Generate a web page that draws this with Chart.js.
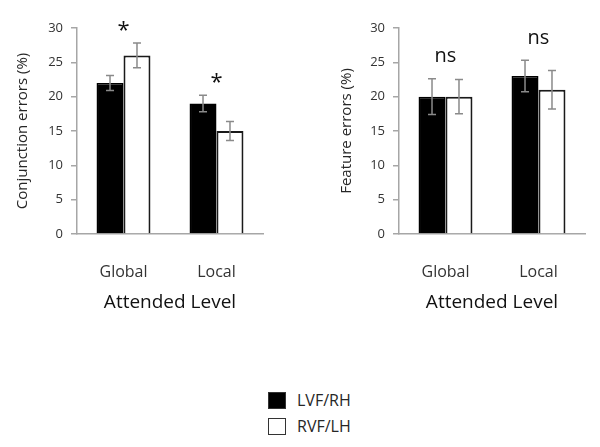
<!DOCTYPE html>
<html><head><meta charset="utf-8">
<script src="https://cdn.jsdelivr.net/npm/chart.js@4.4.1/dist/chart.umd.min.js"></script>
<style>
html,body{margin:0;padding:0;background:#fff;width:600px;height:447px;overflow:hidden;font-family:"Open Sans",sans-serif}
.c{position:absolute;top:0;height:320px;width:300px}
#legend{position:absolute;left:268px;top:392px;font-family:"Open Sans",sans-serif;font-size:16px;color:#262626}
.item{position:relative;height:26px}
.box{position:absolute;left:0;top:0;width:18px;height:17px;box-sizing:border-box}
.lab{position:absolute;left:29px;top:-3px;line-height:22px;white-space:nowrap}
</style></head><body>
<div class="c" style="left:0"><canvas id="c1"></canvas></div>
<div class="c" style="left:300px"><canvas id="c2"></canvas></div>
<div id="legend"></div>
<script>
// ---- data ----
const categories = ['Global', 'Local'];
const seriesNames = ['LVF/RH', 'RVF/LH'];
const conjLVF = [22, 19];
const conjRVF = [26, 15];
const conjLVFErr = [1.1, 1.2];
const conjRVFErr = [1.8, 1.4];
const featLVF = [20, 23];
const featRVF = [20, 21];
const featLVFErr = [2.6, 2.3];
const featRVFErr = [2.5, 2.8];
const conjSig = ['*', '*'];
const featSig = ['ns', 'ns'];
const yMin = 0, yMax = 30, yStep = 5;
const xTitle = 'Attended Level';
const conjTitle = 'Conjunction errors (%)';
const featTitle = 'Feature errors (%)';

const FONT = '"Open Sans", sans-serif';

const errorBarPlugin = {
  id: 'errorBars',
  afterDatasetsDraw(chart) {
    const ctx = chart.ctx, y = chart.scales.y;
    ctx.save();
    ctx.strokeStyle = '#8a8a8a';
    ctx.lineWidth = 1.5;
    chart.data.datasets.forEach((ds, di) => {
      const meta = chart.getDatasetMeta(di);
      meta.data.forEach((bar, i) => {
        const v = ds.data[i], e = ds.errors[i];
        const yt = y.getPixelForValue(v + e), yb = y.getPixelForValue(v - e);
        const x = bar.x;
        ctx.beginPath();
        ctx.moveTo(x, yt); ctx.lineTo(x, yb);
        ctx.moveTo(x - 4, yt); ctx.lineTo(x + 4, yt);
        ctx.moveTo(x - 4, yb); ctx.lineTo(x + 4, yb);
        ctx.stroke();
      });
    });
    ctx.restore();
  }
};

const sigPlugin = {
  id: 'sigLabels',
  afterDatasetsDraw(chart, args, opts) {
    const ctx = chart.ctx, y = chart.scales.y, x = chart.scales.x;
    ctx.save();
    ctx.fillStyle = '#111';
    ctx.textAlign = 'center';
    ctx.textBaseline = 'alphabetic';
    opts.labels.forEach((lab, i) => {
      let top = Infinity;
      chart.data.datasets.forEach(ds => {
        top = Math.min(top, y.getPixelForValue(ds.data[i] + ds.errors[i]));
      });
      const isStar = lab === '*';
      ctx.font = (isStar ? '22px ' : '20px ') + FONT;
      const m = ctx.measureText(lab);
      const center = top - (isStar ? 17 : 22);
      const base = center + (m.actualBoundingBoxAscent - m.actualBoundingBoxDescent) / 2;
      ctx.fillText(lab, x.getPixelForValue(i), base);
    });
    ctx.restore();
  }
};

function makeChart(id, lvf, lvfErr, rvf, rvfErr, sig, yTitle, yWidth, yTitlePad, padRight) {
  return new Chart(document.getElementById(id), {
    type: 'bar',
    data: {
      labels: categories,
      datasets: [
        {label: seriesNames[0], data: lvf, errors: lvfErr, backgroundColor: '#000', borderColor: '#000', borderWidth: 1.5},
        {label: seriesNames[1], data: rvf, errors: rvfErr, backgroundColor: '#fff', borderColor: '#1a1a1a', borderWidth: 2}
      ]
    },
    options: {
      responsive: true,
      maintainAspectRatio: false,
      animation: false,
      events: [],
      layout: {padding: {top: 28, right: padRight, left: 0, bottom: 0}},
      datasets: {bar: {categoryPercentage: 0.58, barPercentage: 1.0}},
      plugins: {legend: {display: false}, tooltip: {enabled: false}, sigLabels: {labels: sig}},
      scales: {
        x: {
          grid: {display: false},
          border: {display: true, color: '#a6a6a6', width: 1.5},
          ticks: {color: '#333', font: {family: FONT, size: 16}, padding: 21},
          title: {display: true, text: xTitle, color: '#111', font: {family: FONT, size: 19}, padding: {top: 0, bottom: 6}},
          afterFit(s) { s.height = 86; }
        },
        y: {
          min: yMin, max: yMax,
          grid: {display: true, drawOnChartArea: false, drawTicks: true, tickLength: 6, color: '#a6a6a6', lineWidth: 1.5},
          border: {display: true, color: '#a6a6a6', width: 1.5},
          ticks: {stepSize: yStep, color: '#333', font: {family: FONT, size: 13}, padding: 8},
          title: {display: true, text: yTitle, color: '#262626', font: {family: FONT, size: 15}, padding: {top: yTitlePad, bottom: 0}},
          afterFit(s) { s.width = yWidth; }
        }
      }
    },
    plugins: [errorBarPlugin, sigPlugin]
  });
}

makeChart('c1', conjLVF, conjLVFErr, conjRVF, conjRVFErr, conjSig, conjTitle, 77, 14, 37);
makeChart('c2', featLVF, featLVFErr, featRVF, featRVFErr, featSig, featTitle, 99, 38, 15);

// legend
const legend = document.getElementById('legend');
const fills = ['#000', '#fff'];
seriesNames.forEach((n, i) => {
  const it = document.createElement('div');
  it.className = 'item';
  const b = document.createElement('div');
  b.className = 'box';
  b.style.background = fills[i];
  b.style.border = '1px solid #333';
  const l = document.createElement('div');
  l.className = 'lab';
  l.textContent = n;
  it.appendChild(b); it.appendChild(l);
  legend.appendChild(it);
});
</script>
</body></html>
